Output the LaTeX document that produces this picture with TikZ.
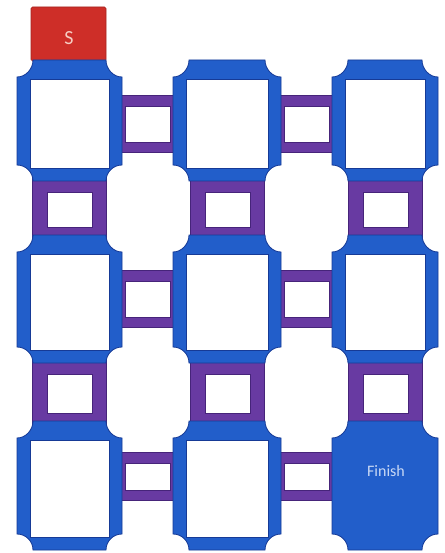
\documentclass[tikz,border=0pt]{standalone}
\usepackage{fontspec}
\setmainfont{Carlito}
\definecolor{cellblue}{RGB}{34,94,202}
\definecolor{celledge}{RGB}{22,58,150}
\definecolor{connpurple}{RGB}{104,58,162}
\definecolor{connedge}{RGB}{70,36,122}
\definecolor{startred}{RGB}{206,46,40}
\definecolor{starttext}{RGB}{246,205,195}
\definecolor{finishtext}{RGB}{200,216,245}
\tikzset{
  cellbody/.style={fill=cellblue, draw=celledge, line width=0.8pt},
  cellhole/.style={fill=white, draw=celledge, line width=0.7pt},
  connbody/.style={fill=connpurple, draw=connedge, line width=0.7pt},
  connhole/.style={fill=white, draw=connedge, line width=0.6pt},
  startbox/.style={fill=startred, draw=startred!80!black, line width=0.6pt, rounded corners=1.5pt},
}
% concave-corner cell: x1 y1 x2 y2
\newcommand\mazecellshape[4]{%
  \path[cellbody] ({#1+16},#2) -- ({#3-16},#2)
    .. controls ({#3-16},{#2+9}) and ({#3-8.8},{#2+17}) .. (#3,{#2+17})
    -- (#3,{#4-16})
    .. controls ({#3-8.8},{#4-16}) and ({#3-16},{#4-8.8}) .. ({#3-16},#4)
    -- ({#1+16},#4)
    .. controls ({#1+16},{#4-8.8}) and ({#1+8.8},{#4-16}) .. (#1,{#4-16})
    -- (#1,{#2+17})
    .. controls ({#1+8.8},{#2+17}) and ({#1+16},{#2+9}) .. cycle;}
\newcommand\mazecell[4]{%
  \mazecellshape{#1}{#2}{#3}{#4}%
  \path[cellhole] ({#1+13},{#2+19}) rectangle ({#3-13},{#4-13});}
\newcommand\hconn[4]{%
  \path[connbody] ({#1-4},#2) rectangle ({#3+4},#4);
  \path[connhole] ({#1+3},{#2+11}) rectangle ({#3-3},{#4-10});}
\newcommand\vconn[4]{%
  \path[connbody] (#1,{#2-4}) rectangle (#3,{#4+4});
  \path[connhole] ({#1+15},{#2+11}) rectangle ({#3-14},{#4-8});}
\begin{document}
\begin{tikzpicture}[x=1pt,y=-1pt]
\useasboundingbox (0,0) rectangle (444,553);
% horizontal connectors
\hconn{122}{95}{173}{152}
\hconn{281}{95}{332}{152}
\hconn{122}{270}{173}{327}
\hconn{281}{270}{332}{327}
\hconn{122}{452}{173}{500}
\hconn{281}{452}{332}{500}
% vertical connectors
\vconn{32}{181}{106}{235}
\vconn{32}{363}{106}{421}
\vconn{190}{181}{264}{235}
\vconn{190}{363}{264}{421}
\vconn{348}{181}{422}{235}
\vconn{348}{363}{422}{421}
% start box
\path[startbox] (31,7) rectangle (106,61);
\node[text=starttext, font=\fontsize{20}{22}\selectfont] (start) at (69,38) {S};
% cells
\mazecell{17}{60}{122}{181}
\mazecell{173}{60}{281}{181}
\mazecell{332}{60}{438}{181}
\mazecell{17}{235}{122}{363}
\mazecell{173}{235}{281}{363}
\mazecell{332}{235}{438}{363}
\mazecell{17}{421}{122}{550}
\mazecell{173}{421}{281}{550}
\mazecellshape{332}{421}{438}{550}
\node[text=finishtext, font=\fontsize{16}{18}\selectfont] (finish) at (386,471) {Finish};
\end{tikzpicture}
\end{document}
